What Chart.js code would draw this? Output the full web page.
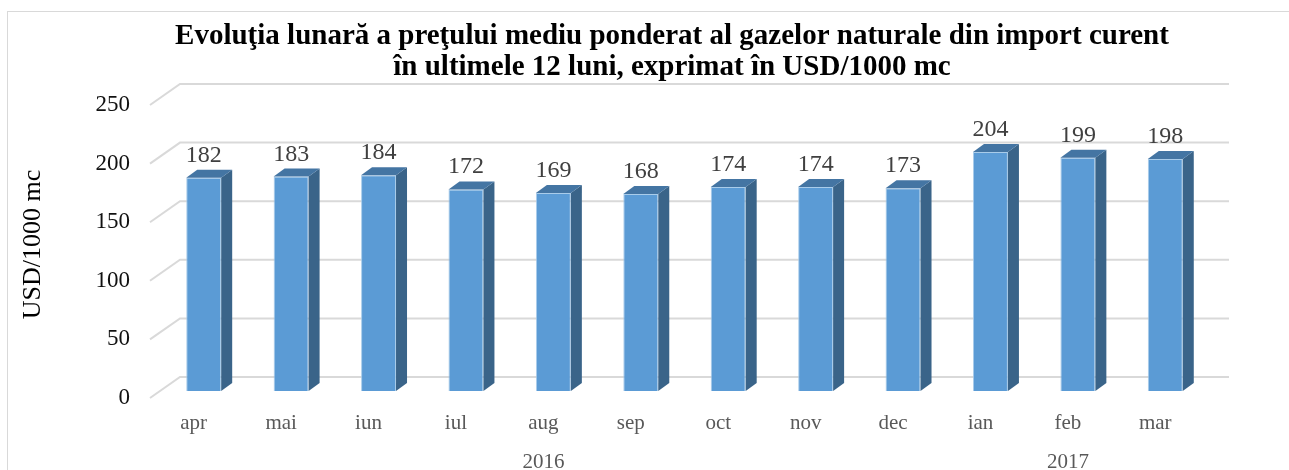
<!DOCTYPE html>
<html>
<head>
<meta charset="utf-8">
<title>Evoluţia lunară a preţului gazelor naturale</title>
<script src="https://cdn.jsdelivr.net/npm/chart.js@4.4.1/dist/chart.umd.min.js"></script>
<style>
  html, body { margin: 0; padding: 0; background: #fff; }
  #wrap { position: relative; width: 1289px; height: 470px; }
</style>
</head>
<body>
<div id="wrap"><canvas id="chart" width="1289" height="470"></canvas></div>
<script>
const titleLines = [
  'Evoluţia lunară a preţului mediu ponderat al gazelor naturale din import curent',
  'în ultimele 12 luni, exprimat în USD/1000 mc'
];
const months = ['apr', 'mai', 'iun', 'iul', 'aug', 'sep', 'oct', 'nov', 'dec', 'ian', 'feb', 'mar'];
const prices = [182, 183, 184, 172, 169, 168, 174, 174, 173, 204, 199, 198];
const years = ['2016', '2017'];
const monthsPerYear = [9, 3];
const yMin = 0, yMax = 250, yStep = 50;
const yTitle = 'USD/1000 mc';

const SERIF = "'Liberation Serif', 'Times New Roman', serif";

// fake 3D depth (pixels)
const BAR_DX = 11, BAR_DY = 8;

const depth3d = {
  id: 'depth3d',
  beforeDraw(chart) {
    const ctx = chart.ctx;
    ctx.save();
    ctx.fillStyle = '#fff';
    ctx.fillRect(0, 0, chart.width, chart.height);
    ctx.strokeStyle = '#d9d9d9';
    ctx.lineWidth = 1;
    ctx.strokeRect(7.5, 11.5, chart.width + 20, chart.height + 20);
    ctx.restore();
  },
  beforeDatasetsDraw(chart) {
    const { ctx, chartArea: a, scales: { y } } = chart;
    ctx.save();
    ctx.strokeStyle = '#d9d9d9';
    ctx.lineWidth = 2;
    y.ticks.forEach(t => {
      const py = y.getPixelForValue(t.value);
      ctx.beginPath();
      ctx.moveTo(a.left - 10, py + 7);
      ctx.lineTo(a.left + 20, py - 14);
      ctx.lineTo(a.right + 20, py - 14);
      ctx.stroke();
    });
    ctx.restore();
  },
  afterDatasetsDraw(chart) {
    const ctx = chart.ctx;
    const meta = chart.getDatasetMeta(0);
    ctx.save();
    meta.data.forEach((bar, i) => {
      const { x, y, base, width } = bar.getProps(['x', 'y', 'base', 'width'], true);
      const l = x - width / 2, r = x + width / 2;
      // side face
      ctx.fillStyle = '#3a6489';
      ctx.beginPath();
      ctx.moveTo(r, y);
      ctx.lineTo(r + BAR_DX, y - BAR_DY);
      ctx.lineTo(r + BAR_DX, base - BAR_DY);
      ctx.lineTo(r, base);
      ctx.closePath();
      ctx.fill();
      // top face
      ctx.fillStyle = '#4475a3';
      ctx.beginPath();
      ctx.moveTo(l, y);
      ctx.lineTo(l + BAR_DX, y - BAR_DY);
      ctx.lineTo(r + BAR_DX, y - BAR_DY);
      ctx.lineTo(r, y);
      ctx.closePath();
      ctx.fill();
      // value label
      ctx.fillStyle = '#404040';
      ctx.font = '24px ' + SERIF;
      ctx.textAlign = 'center';
      ctx.textBaseline = 'alphabetic';
      ctx.fillText(String(prices[i]), x, y - 16);
    });
    ctx.restore();
  },
  afterDraw(chart) {
    const ctx = chart.ctx;
    const xs = chart.scales.x;
    ctx.save();
    // title
    ctx.fillStyle = '#000';
    ctx.font = 'bold 29px ' + SERIF;
    ctx.textAlign = 'center';
    ctx.textBaseline = 'alphabetic';
    titleLines.forEach((line, i) => ctx.fillText(line, 672, 44 + i * 31));
    // year group labels
    ctx.fillStyle = '#595959';
    ctx.font = '21px ' + SERIF;
    let start = 0;
    years.forEach((yr, i) => {
      const end = start + monthsPerYear[i] - 1;
      const cx = (xs.getPixelForValue(start) + xs.getPixelForValue(end)) / 2 - 10;
      ctx.fillText(yr, cx, xs.top + 77);
      start = end + 1;
    });
    ctx.restore();
  }
};

new Chart(document.getElementById('chart'), {
  type: 'bar',
  data: {
    labels: months,
    datasets: [{
      data: prices,
      backgroundColor: '#5b9bd5',
      borderColor: 'rgba(160, 198, 232, 0.9)',
      borderWidth: 1,
      barPercentage: 0.4,
      categoryPercentage: 1
    }]
  },
  options: {
    responsive: false,
    animation: false,
    devicePixelRatio: 1,
    layout: { padding: { top: 98, right: 80, bottom: 0, left: 0 } },
    plugins: {
      legend: { display: false },
      tooltip: { enabled: false },
      title: { display: false }
    },
    scales: {
      x: {
        grid: { display: false, drawTicks: false },
        border: { display: false },
        ticks: {
          color: '#595959',
          font: { family: SERIF, size: 21 },
          padding: 20,
          labelOffset: -10,
          maxRotation: 0,
          autoSkip: false
        },
        afterFit(scale) { scale.height = 79; }
      },
      y: {
        min: yMin,
        max: yMax,
        grid: { display: false, drawTicks: false },
        border: { display: false },
        ticks: {
          stepSize: yStep,
          color: '#111',
          font: { family: SERIF, size: 23 },
          padding: 30,
          labelOffset: 7
        },
        title: {
          display: true,
          text: yTitle,
          color: '#000',
          font: { family: SERIF, size: 26 },
          padding: { top: 18, bottom: 0 }
        },
        afterFit(scale) { scale.width = 160; }
      }
    }
  },
  plugins: [depth3d]
});
</script>
</body>
</html>
